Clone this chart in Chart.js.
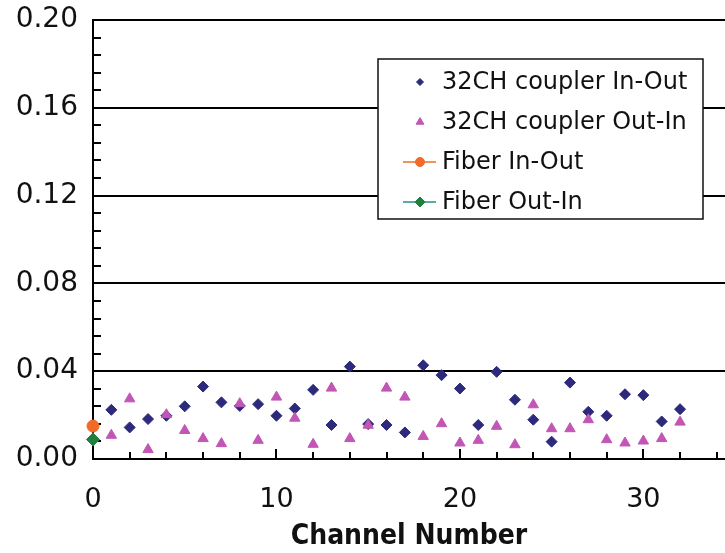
<!DOCTYPE html>
<html>
<head>
<meta charset="utf-8">
<script src="https://cdn.jsdelivr.net/npm/chart.js@4/dist/chart.umd.min.js"></script>
<style>
  html, body { margin: 0; padding: 0; background: #fff; }
  #wrap { width: 725px; height: 553px; position: relative; }
</style>
</head>
<body>
<div id="wrap"><canvas id="c" width="725" height="553"></canvas></div>
<script>
// ---- data ----
const channels = [1,2,3,4,5,6,7,8,9,10,11,12,13,14,15,16,17,18,19,20,21,22,23,24,25,26,27,28,29,30,31,32];
const couplerInOut = [0.0224,0.0144,0.0182,0.0197,0.0240,0.0330,0.0258,0.0242,0.0250,0.0197,0.0230,0.0315,0.0155,0.0421,0.0159,0.0155,0.0121,0.0427,0.0382,0.0321,0.0155,0.0397,0.0270,0.0179,0.0079,0.0348,0.0215,0.0197,0.0295,0.0291,0.0171,0.0227];
const couplerOutIn = [0.0108,0.0274,0.0043,0.0202,0.0130,0.0093,0.0070,0.0252,0.0085,0.0282,0.0186,0.0067,0.0323,0.0093,0.0154,0.0323,0.0282,0.0103,0.0161,0.0073,0.0085,0.0149,0.0065,0.0247,0.0138,0.0138,0.0179,0.0088,0.0073,0.0082,0.0093,0.0168];
const fiberChannel = [0];
const fiberInOut = [0.0150];
const fiberOutIn = [0.0089];
const seriesNames = ["32CH coupler In-Out", "32CH coupler Out-In", "Fiber In-Out", "Fiber Out-In"];
const xTickLabels = [0, 10, 20, 30];
const yTickLabels = [0.00, 0.04, 0.08, 0.12, 0.16, 0.20];
const xTitle = "Channel Number";

const toXY = (xs, ys) => xs.map((x, i) => ({x: x, y: ys[i]}));

const NAVY = '#2d2a7c';
const PINK = '#c256b5';
const ORANGE = '#f26a28';
const GREEN = '#1f7f3e';
const TEAL = '#2a8c8a';
const FONT = '"DejaVu Sans", Verdana, sans-serif';
const TITLE_FONT = '"DejaVu Sans Condensed", "DejaVu Sans", Verdana, sans-serif';

const legendStyles = [
  {color: NAVY, style: 'rectRot', radius: 3.5, line: null},
  {color: PINK, style: 'triangle', radius: 4.5, line: null},
  {color: ORANGE, style: 'circle', radius: 4.5, line: ORANGE},
  {color: GREEN, style: 'rectRot', radius: 5, line: TEAL}
];

const tickPlugin = {
  id: 'insideTicks',
  beforeDatasetsDraw(chart) {
    const ctx = chart.ctx;
    const xs = chart.scales.x, ys = chart.scales.y;
    const area = chart.chartArea;
    ctx.save();
    ctx.strokeStyle = '#000';
    ctx.lineWidth = 2;
    for (let v = 2; v <= 34; v += 2) {
      const px = Math.round(xs.getPixelForValue(v));
      const major = (v % 10 === 0);
      ctx.beginPath();
      ctx.moveTo(px, area.bottom + (major ? 1 : 0));
      ctx.lineTo(px, area.bottom - (major ? 10 : 7));
      ctx.stroke();
    }
    for (let i = 1; i < 25; i++) {
      if (i % 5 === 0) continue;
      const py = Math.round(ys.getPixelForValue(i * 0.008));
      ctx.beginPath();
      ctx.moveTo(area.left, py);
      ctx.lineTo(area.left + 8, py);
      ctx.stroke();
    }
    ctx.restore();
  },
  afterDraw(chart) {
    const ctx = chart.ctx;
    ctx.save();
    const bx = 378, by = 59, bw = 325, bh = 160;
    ctx.fillStyle = '#fff';
    ctx.fillRect(bx, by, bw, bh);
    ctx.strokeStyle = '#111';
    ctx.lineWidth = 1.5;
    ctx.strokeRect(bx, by, bw, bh);
    ctx.font = '24px ' + FONT;
    ctx.textBaseline = 'middle';
    ctx.textAlign = 'left';
    for (let i = 0; i < seriesNames.length; i++) {
      const cy = 82 + i * 40;
      const st = legendStyles[i];
      if (st.line) {
        ctx.strokeStyle = st.line;
        ctx.lineWidth = 1.5;
        ctx.beginPath();
        ctx.moveTo(403, cy);
        ctx.lineTo(436, cy);
        ctx.stroke();
      }
      ctx.fillStyle = st.color;
      ctx.strokeStyle = st.color;
      ctx.lineWidth = 1;
      Chart.helpers.drawPoint(ctx, {pointStyle: st.style, radius: st.radius, borderWidth: 1, rotation: 0}, 420, cy);
      ctx.fillStyle = '#111';
      ctx.fillText(seriesNames[i], 442, cy + 1);
    }
    ctx.restore();
  }
};

new Chart(document.getElementById('c'), {
  type: 'scatter',
  data: {
    datasets: [
      {label: seriesNames[0], data: toXY(channels, couplerInOut), pointStyle: 'rectRot', pointRadius: 5.5, pointBackgroundColor: NAVY, pointBorderColor: NAVY, pointBorderWidth: 1, order: 3},
      {label: seriesNames[1], data: toXY(channels, couplerOutIn), pointStyle: 'triangle', pointRadius: 6, pointBackgroundColor: PINK, pointBorderColor: PINK, pointBorderWidth: 1, order: 2},
      {label: seriesNames[2], data: toXY(fiberChannel, fiberInOut), pointStyle: 'circle', pointRadius: 6, pointBackgroundColor: ORANGE, pointBorderColor: ORANGE, pointBorderWidth: 1, borderColor: ORANGE, showLine: true, order: 1},
      {label: seriesNames[3], data: toXY(fiberChannel, fiberOutIn), pointStyle: 'rectRot', pointRadius: 6.5, pointBackgroundColor: GREEN, pointBorderColor: GREEN, pointBorderWidth: 1, borderColor: TEAL, showLine: true, order: 0}
    ]
  },
  options: {
    responsive: false,
    animation: false,
    clip: false,
    layout: {autoPadding: false, padding: {top: 20, right: 0, bottom: 0, left: 0}},
    plugins: {legend: {display: false}, tooltip: {enabled: false}},
    scales: {
      x: {
        type: 'linear',
        min: 0,
        max: 34.45,
        afterBuildTicks: (s) => { s.ticks = xTickLabels.map(v => ({value: v})); },
        afterFit: (s) => { s.height = 94; s.paddingLeft = 0; s.paddingRight = 0; },
        grid: {display: false, drawTicks: false},
        border: {display: true, color: '#000', width: 2},
        ticks: {
          autoSkip: false,
          maxRotation: 0,
          padding: 25,
          color: '#111',
          font: {family: FONT, size: 27},
          callback: (v) => String(v)
        },
        title: {
          display: true,
          text: xTitle,
          color: '#111',
          font: {family: TITLE_FONT, size: 28, weight: 'bold', lineHeight: 1},
          padding: {top: 0, bottom: 2}
        }
      },
      y: {
        type: 'linear',
        min: 0,
        max: 0.2,
        afterBuildTicks: (s) => { s.ticks = yTickLabels.map(v => ({value: v})); },
        afterFit: (s) => { s.width = 93; s.paddingTop = 0; s.paddingBottom = 0; },
        grid: {display: true, color: '#000', lineWidth: 2, drawTicks: false},
        border: {display: true, color: '#000', width: 2},
        ticks: {
          padding: 15,
          color: '#111',
          font: {family: FONT, size: 28},
          callback: (v) => Number(v).toFixed(2)
        }
      }
    }
  },
  plugins: [tickPlugin]
});
</script>
</body>
</html>
